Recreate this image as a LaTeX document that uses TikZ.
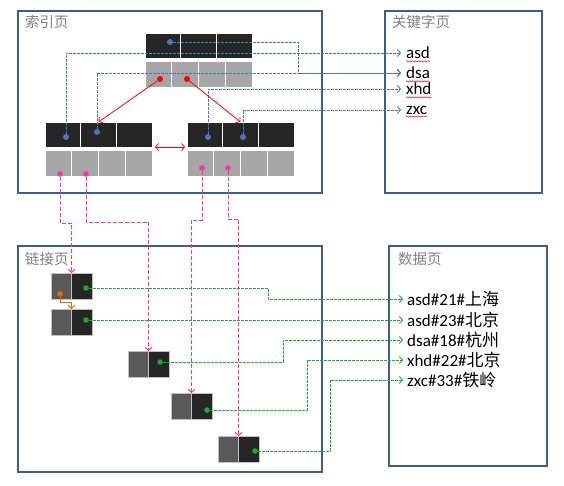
\documentclass[tikz,border=0pt]{standalone}
\usepackage{fontspec}
\setmainfont{Carlito}
\newfontfamily\cjk{Noto Sans CJK SC}
\usetikzlibrary{positioning,arrows.meta,decorations.pathmorphing}
\definecolor{pageblue}{RGB}{59,94,140}
\definecolor{keyblack}{RGB}{38,38,38}
\definecolor{ptrgray}{RGB}{166,166,166}
\definecolor{linkgray}{RGB}{89,89,89}
\definecolor{titlegray}{RGB}{128,128,128}
\definecolor{ptrblue}{RGB}{70,120,190}
\definecolor{ptrpink}{RGB}{245,55,155}
\definecolor{ptrgreen}{RGB}{25,175,45}
\definecolor{ptrorange}{RGB}{228,108,10}
\tikzset{
  pagebox/.style={draw=pageblue, line width=2pt, anchor=north west, inner sep=0, outer sep=0},
  pagetitle/.style={anchor=west, text=titlegray, inner sep=0, font=\cjk\fontsize{14.5}{17}\selectfont},
  keycell/.style={draw=white, line width=0.8pt, fill=keyblack, minimum width=35.67pt, minimum height=25pt, inner sep=0, outer sep=0},
  ptrcell/.style={keycell, fill=ptrgray, minimum width=26.75pt, minimum height=26pt},
  linkcell/.style={draw=black!25, line width=0.8pt, minimum width=20.5pt, minimum height=26pt, inner sep=0, outer sep=0},
  ptrdot/.style={circle, fill=#1, inner sep=0, outer sep=0, minimum size=5.5pt},
  keytext/.style={anchor=west, inner xsep=5pt, inner ysep=1pt, font=\fontsize{17}{19}\selectfont},
  datatext/.style={anchor=west, inner xsep=4pt, inner ysep=1pt, font=\fontsize{17}{19}\selectfont},
  barbtip/.style={-{Straight Barb[length=3pt,width=7pt]}},
  barbs/.style={{Straight Barb[length=3pt,width=7pt]}-{Straight Barb[length=3pt,width=7pt]}},
  bline/.style={ptrblue, line width=0.9pt, dash pattern=on 3pt off 1pt, barbtip},
  rline/.style={red, line width=0.8pt},
  pline/.style={ptrpink, line width=1pt, dash pattern=on 4pt off 2pt, barbtip},
  gline/.style={ptrgreen, line width=0.9pt, dash pattern=on 3pt off 1pt, barbtip},
  oline/.style={ptrorange, line width=1pt, barbtip},
  squiggle/.style={red, line width=0.5pt, decorate, decoration={snake, segment length=3pt, amplitude=0.6pt}}
}
\newcommand{\treenode}[2]{%
 \node[keycell, anchor=north west] (#1k1) at (#2) {};%
 \foreach \i/\j in {1/2,2/3} \node[keycell, right=0pt of #1k\i] (#1k\j) {};%
 \node[ptrcell, anchor=north west] (#1c1) at ([yshift=-3pt]#1k1.south west) {};%
 \foreach \i/\j in {1/2,2/3,3/4} \node[ptrcell, right=0pt of #1c\i] (#1c\j) {};%
}
\newcommand{\linknode}[2]{%
 \node[linkcell, fill=linkgray, anchor=north west] (#1a) at (#2) {};%
 \node[linkcell, fill=keyblack, right=0pt of #1a] (#1b) {};%
}
\newcommand{\squig}[1]{%
 \draw[squiggle] ([xshift=5pt,yshift=-2.5pt]#1.base west) -- ([xshift=-5pt,yshift=-2.5pt]#1.base east);%
}

\begin{document}
\begin{tikzpicture}[x=1pt,y=-1pt]
  \useasboundingbox (0,0) rectangle (564,485);
  \node[pagebox, minimum width=304pt, minimum height=182pt] (idxpage) at (18,11) {};
  \node[pagebox, minimum width=157pt, minimum height=182pt] (keypage) at (385,11) {};
  \node[pagebox, minimum width=304pt, minimum height=226pt] (lnkpage) at (18,246) {};
  \node[pagebox, minimum width=158pt, minimum height=220pt] (datpage) at (389,246) {};
  \node[pagetitle] (idxtitle) at (25,22) {索引页};
  \node[pagetitle] (keytitle) at (392,22) {关键字页};
  \node[pagetitle] (lnktitle) at (25,259) {链接页};
  \node[pagetitle] (dattitle) at (398,259) {数据页};

  \treenode{root}{145,33};
  \treenode{lch}{45,122};
  \treenode{rch}{187,122};

  \linknode{lnk1}{51,273};
  \linknode{lnk2}{51,309};
  \linknode{lnk3}{128,351};
  \linknode{lnk4}{171,393};
  \linknode{lnk5}{218,436};

  \node[keytext] (kasd) at (401,53) {asd};
  \node[keytext] (kdsa) at (401,73) {dsa};
  \node[keytext] (kxhd) at (401,89) {xhd};
  \node[keytext] (kzxc) at (401,110) {zxc};
  \squig{kasd} \squig{kdsa} \squig{kxhd} \squig{kzxc}

  \node[datatext] (d1) at (403,299) {asd\#21\#{\cjk 上海}};
  \node[datatext] (d2) at (403,320) {asd\#23\#{\cjk 北京}};
  \node[datatext] (d3) at (403,340) {dsa\#18\#{\cjk 杭州}};
  \node[datatext] (d4) at (403,360) {xhd\#22\#{\cjk 北京}};
  \node[datatext] (d5) at (403,380) {zxc\#33\#{\cjk 铁岭}};

  \node[ptrdot=ptrblue, minimum size=6pt] (rootB) at (170,42) {};
  \node[ptrdot=red, minimum size=6pt] (rootR1) at (160,79) {};
  \node[ptrdot=red, minimum size=6pt] (rootR2) at (187,79) {};
  \node[ptrdot=ptrblue, minimum size=6pt] (lchB1) at (66,137) {};
  \node[ptrdot=ptrblue, minimum size=6pt] (lchB2) at (97,132) {};
  \node[ptrdot=ptrblue, minimum size=6pt] (rchB1) at (208,137) {};
  \node[ptrdot=ptrblue, minimum size=6pt] (rchB2) at (243,137) {};
  \node[ptrdot=ptrpink] (lchP1) at (60,174) {};
  \node[ptrdot=ptrpink] (lchP2) at (86,174) {};
  \node[ptrdot=ptrpink] (rchP1) at (202,168) {};
  \node[ptrdot=ptrpink] (rchP2) at (228,168) {};
  \node[ptrdot=ptrorange] (lnk1o) at (60,294) {};
  \node[ptrdot=ptrgreen] (lnk1g) at (86,288) {};
  \node[ptrdot=ptrgreen] (lnk2g) at (86,320) {};
  \node[ptrdot=ptrgreen] (lnk3g) at (160,362) {};
  \node[ptrdot=ptrgreen] (lnk4g) at (207,410) {};
  \node[ptrdot=ptrgreen] (lnk5g) at (255,451) {};

  \draw[bline] (lchB1) |- (kasd);
  \draw[bline] (lchB2) |- (kdsa);
  \draw[bline] (rootB) -- ++(128,0) |- (kdsa);
  \draw[bline] (rchB1) |- (kxhd);
  \draw[bline] (rchB2) |- (kzxc);

  \draw[rline, barbtip] (rootR1) -- (lchk2.north);
  \draw[rline, barbtip] (rootR2) -- (rchk2.north);
  \draw[rline, barbs] ([xshift=3pt]lchk3.south east) -- ([xshift=-2pt]rchk1.south west);

  \draw[pline] (lchP1) -- ++(0,49) -| (lnk1a.north east);
  \draw[pline] (lchP2) -- ++(0,48) -| (lnk3a.north east);
  \draw[pline] (rchP1) -- ++(0,52) -| (lnk4a.north east);
  \draw[pline] (rchP2) -- ++(0,51) -| (lnk5a.north east);
  \draw[oline] (lnk1o) -- ++(0,8) -| (lnk2a.north east);

  \draw[gline] (lnk1g) -- ++(182,0) |- (d1);
  \draw[gline] (lnk2g) -- (d2);
  \draw[gline] (lnk3g) -- ++(123,0) |- (d3);
  \draw[gline] (lnk4g) -- ++(100,0) |- (d4);
  \draw[gline] (lnk5g) -- ++(75,0) |- (d5);
\end{tikzpicture}
\end{document}
